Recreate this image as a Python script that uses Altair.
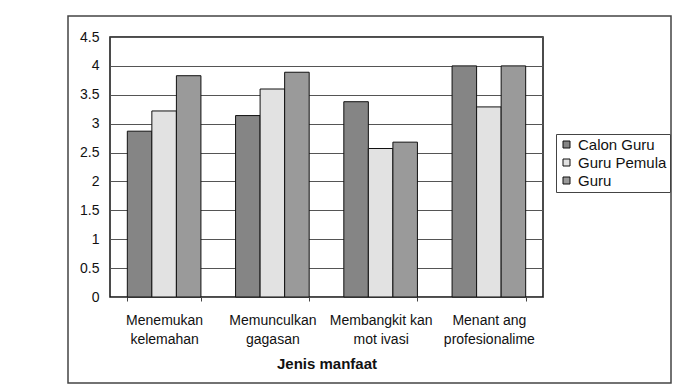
import altair as alt
import pandas as pd

categories = ["Menemukan kelemahan", "Memunculkan gagasan", "Membangkitkan motivasi", "Menantang profesionalime"]
label_lines = {
    "Menemukan kelemahan": ["Menemukan", "kelemahan"],
    "Memunculkan gagasan": ["Memunculkan", "gagasan"],
    "Membangkitkan motivasi": ["Membangkit kan", "mot ivasi"],
    "Menantang profesionalime": ["Menant ang", "profesionalime"],
}
series = ["Calon Guru", "Guru Pemula", "Guru"]
calon_guru = [2.87, 3.14, 3.38, 4.0]
guru_pemula = [3.22, 3.60, 2.57, 3.29]
guru = [3.83, 3.89, 2.68, 4.0]
y_ticks = [0, 0.5, 1, 1.5, 2, 2.5, 3, 3.5, 4, 4.5]
colors = ["#858585", "#e2e2e2", "#9a9a9a"]

rows = []
for vals, s in zip([calon_guru, guru_pemula, guru], series):
    for c, v in zip(categories, vals):
        rows.append({"kategori": c, "seri": s, "nilai": v})
df = pd.DataFrame(rows)

font = "Liberation Sans"

expr_parts = []
for c in categories:
    expr_parts.append("datum.value == '{}' ? ['{}', '{}']".format(c, label_lines[c][0], label_lines[c][1]))
label_expr = " : ".join(expr_parts) + " : datum.value"

bars = alt.Chart(df).mark_bar(stroke="#111", strokeWidth=1).encode(
    x=alt.X("kategori:N", sort=categories,
            scale=alt.Scale(paddingInner=0.32, paddingOuter=0.16),
            axis=alt.Axis(title="Jenis manfaat", labelAngle=0, labelExpr=label_expr,
                          labelFontSize=14, labelLineHeight=19, labelPadding=12,
                          labelColor="#111", titleFontSize=15, titleFontWeight="bold",
                          titleColor="#111", titlePadding=10, tickBand="extent",
                          tickSize=4, tickColor="#444", domain=False, grid=False,
                          labelFont=font, titleFont=font)),
    xOffset=alt.XOffset("seri:N", sort=series, scale=alt.Scale(paddingInner=0, paddingOuter=0)),
    y=alt.Y("nilai:Q", scale=alt.Scale(domain=[0, 4.5], nice=False),
            axis=alt.Axis(title=None, values=y_ticks, format="~g", labelFontSize=14,
                          labelColor="#111", labelPadding=11, ticks=False, domain=False,
                          grid=True, gridColor="#555", gridWidth=1, labelFont=font)),
    fill=alt.Fill("seri:N", sort=series,
                  scale=alt.Scale(domain=series, range=colors),
                  legend=alt.Legend(title=None, orient="none", legendX=446, legendY=97,
                                    symbolType="square", symbolSize=49, symbolStrokeColor="#111",
                                    symbolStrokeWidth=1, labelFontSize=15, labelFont=font,
                                    labelColor="#111", strokeColor="#444", fillColor="white",
                                    padding=3, rowPadding=2, symbolOffset=0, labelOffset=4)),
)

border = alt.Chart(pd.DataFrame({"a": [0]})).mark_rect(
    fill=None, stroke="#444", strokeWidth=1.5
).encode(x=alt.value(-42), x2=alt.value(561), y=alt.value(-21), y2=alt.value(346))

chart = alt.layer(border, bars).properties(
    width=433, height=260,
    autosize=alt.AutoSizeParams(type="none"),
    padding={"left": 110, "top": 37, "right": 142, "bottom": 92},
    background="white",
).configure_view(stroke="#111", strokeWidth=1.5)

chart.save("out.html", embed_options={"renderer": "svg", "actions": False})
